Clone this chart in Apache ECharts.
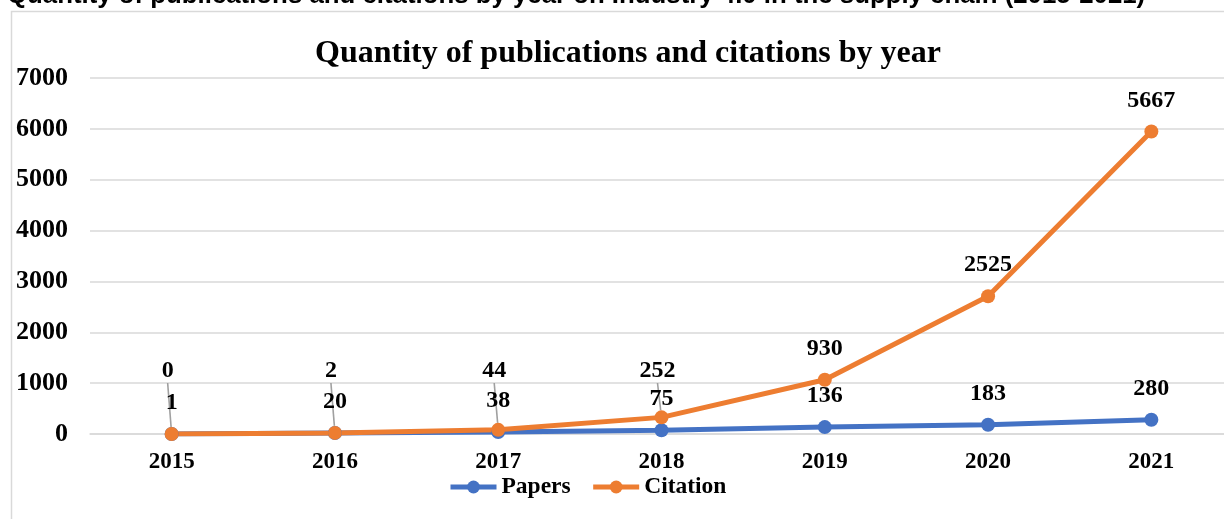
<!DOCTYPE html>
<html>
<head>
<meta charset="utf-8">
<script src="https://cdn.jsdelivr.net/npm/echarts@6/dist/echarts.min.js"></script>
<style>
  html, body { margin: 0; padding: 0; background: #fff; }
  #chart { width: 1224px; height: 519px; }
</style>
</head>
<body>
<div id="chart"></div>
<script>
// Publications and citations per year
const years = ['2015', '2016', '2017', '2018', '2019', '2020', '2021'];
const papers = [1, 20, 38, 75, 136, 183, 280];
const citations = [0, 2, 44, 252, 930, 2525, 5667];

// value axis ticks
const yMin = 0;
const yMax = 7000;
const yStep = 1000;

const captionText = 'Quantity of publications and citations by year on Industry 4.0 in the supply chain (2015-2021)';
const chartTitle = 'Quantity of publications and citations by year';
const seriesNames = ['Papers', 'Citation'];

// citation labels lifted above the crowded bottom rows, tied back with leader lines
const liftedCitation = [0, 1, 2, 3];

const SERIF = '"Liberation Serif", "Times New Roman", serif';
const BLUE = '#4472C4';
const ORANGE = '#ED7D31';
const GRID_TOP = 78;
const GRID_BOTTOM = 85;
const CHART_H = 519;
const LIFTED_CENTER = CHART_H - GRID_BOTTOM - 63;

const labelStyle = {
  show: true,
  position: 'top',
  distance: 12,
  color: '#000',
  fontFamily: SERIF,
  fontWeight: 'bold',
  fontSize: 24
};

const citationData = citations.map((v, i) =>
  liftedCitation.includes(i)
    ? { value: v, labelLine: { show: true, lineStyle: { color: '#a0a0a0', width: 1.6 } } }
    : v
);

const chart = echarts.init(document.getElementById('chart'), null, { renderer: 'canvas' });

chart.setOption({
  animation: false,
  backgroundColor: '#fff',
  title: [
    {
      text: captionText,
      left: 7,
      top: -17,
      padding: 0,
      textStyle: { fontFamily: '"Liberation Sans", Arial, sans-serif', fontWeight: 'bold', fontSize: 25.8, color: '#000' }
    },
    {
      text: chartTitle,
      left: 315,
      top: 38,
      padding: 0,
      textStyle: { fontFamily: SERIF, fontWeight: 'bold', fontSize: 32, color: '#000' }
    }
  ],
  graphic: [
    {
      type: 'rect',
      z: -1,
      shape: { x: 11.5, y: 11.5, width: 1400, height: 700 },
      style: { fill: null, stroke: '#d9d9d9', lineWidth: 1.5 }
    }
  ],
  legend: {
    left: 443,
    top: 470,
    itemWidth: 46,
    itemHeight: 16,
    itemGap: 20,
    data: seriesNames,
    lineStyle: { width: 5 },
    textStyle: { fontFamily: SERIF, fontWeight: 'bold', fontSize: 23.5, color: '#000' }
  },
  // the plot area runs a little past the right edge of the page
  grid: {
    left: 90,
    width: 1143,
    top: GRID_TOP,
    bottom: GRID_BOTTOM,
    containLabel: false,
    outerBoundsMode: 'none'
  },
  xAxis: {
    type: 'category',
    data: years,
    boundaryGap: true,
    axisLine: { show: true, lineStyle: { color: '#d9d9d9', width: 1.5 } },
    axisTick: { show: false },
    axisLabel: { margin: 17, color: '#000', fontFamily: SERIF, fontWeight: 'bold', fontSize: 23 }
  },
  yAxis: {
    type: 'value',
    min: yMin,
    max: yMax,
    interval: yStep,
    axisLine: { show: false },
    axisTick: { show: false },
    splitLine: { lineStyle: { color: '#d9d9d9', width: 1.5 } },
    axisLabel: {
      margin: 22,
      color: '#000',
      fontFamily: SERIF,
      fontWeight: 'bold',
      fontSize: 26,
      formatter: v => String(v)
    }
  },
  series: [
    {
      name: seriesNames[0],
      type: 'line',
      stack: 'total',
      data: papers,
      color: BLUE,
      lineStyle: { width: 5, color: BLUE },
      itemStyle: { color: BLUE },
      symbol: 'circle',
      symbolSize: 14,
      label: labelStyle
    },
    {
      name: seriesNames[1],
      type: 'line',
      stack: 'total',
      data: citationData,
      color: ORANGE,
      lineStyle: { width: 5, color: ORANGE },
      itemStyle: { color: ORANGE },
      symbol: 'circle',
      symbolSize: 14,
      label: labelStyle,
      labelLine: { show: false },
      labelLayout: function (p) {
        if (!liftedCitation.includes(p.dataIndex)) return {};
        const center = p.labelRect.y + p.labelRect.height / 2;
        return { dx: -4, dy: LIFTED_CENTER - center };
      }
    }
  ]
});
</script>
</body>
</html>
